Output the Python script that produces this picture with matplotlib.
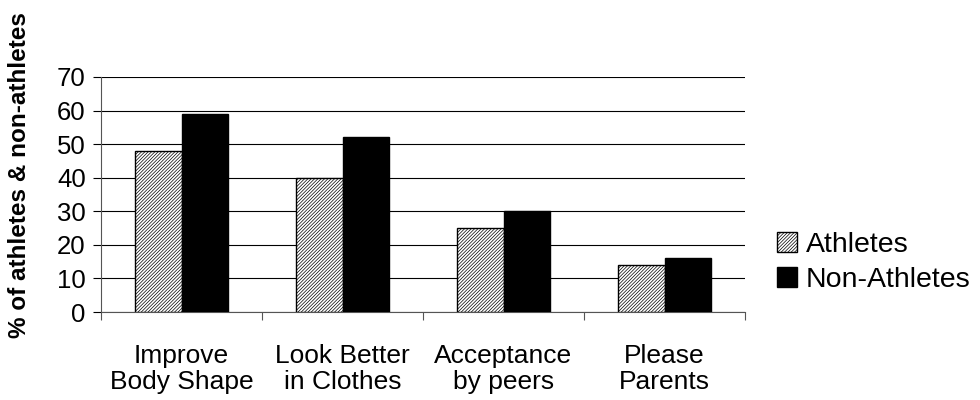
import matplotlib
matplotlib.use("Agg")
import matplotlib.pyplot as plt
import numpy as np

categories = ["Improve\nBody Shape", "Look Better\nin Clothes", "Acceptance\nby peers", "Please\nParents"]
athletes = [48, 40, 25, 14]
non_athletes = [59, 52, 30, 16]
yticks = [0, 10, 20, 30, 40, 50, 60, 70]

plt.rcParams["font.family"] = ["Liberation Sans", "DejaVu Sans"]
plt.rcParams["hatch.linewidth"] = 0.5

fig = plt.figure(figsize=(9.8, 4.0), dpi=100)
ax = fig.add_axes([101/980, 1-312/400, 644/980, 235/400])

x = np.arange(len(categories))
w = 0.29
ax.bar(x - w/2, athletes, width=w, facecolor="white", edgecolor="black",
       hatch="//////////", linewidth=1.0, label="Athletes", zorder=3)
ax.bar(x + w/2, non_athletes, width=w, facecolor="black", edgecolor="black",
       linewidth=1.0, label="Non-Athletes", zorder=3)

ax.set_xlim(-0.5, len(categories) - 0.5)
ax.set_ylim(0, 70)
ax.set_yticks(yticks)
ax.set_yticklabels([str(v) for v in yticks], fontsize=18.5)
ax.yaxis.grid(True, color="black", linewidth=0.8, zorder=0)
ax.set_axisbelow(True)

ax.set_xticks(np.arange(len(categories) + 1) - 0.5)
ax.set_xticklabels([])
ax.tick_params(axis="x", length=6, direction="out", color="#555555")
ax.tick_params(axis="y", length=6, direction="out", color="black", pad=5)
for i, c in enumerate(categories):
    ax.text(i, -9.4, c, ha="center", va="top", fontsize=19, linespacing=1.12)

for s in ["top", "right"]:
    ax.spines[s].set_visible(False)
ax.spines["left"].set_color("#555555")
ax.spines["bottom"].set_color("#555555")

fig.text(20/980, 1-175/400, "% of athletes & non-athletes", rotation=90,
         ha="center", va="center", fontsize=17.5, fontweight="bold")

ax.legend(loc="center left", bbox_to_anchor=(1.0 + 32/644, 0.21), frameon=False,
          fontsize=20.5, handlelength=0.7, handleheight=0.7, handletextpad=0.3,
          labelspacing=0.3, borderaxespad=0.0, borderpad=0.0)

fig.savefig("out.png", dpi=100, facecolor="white")
